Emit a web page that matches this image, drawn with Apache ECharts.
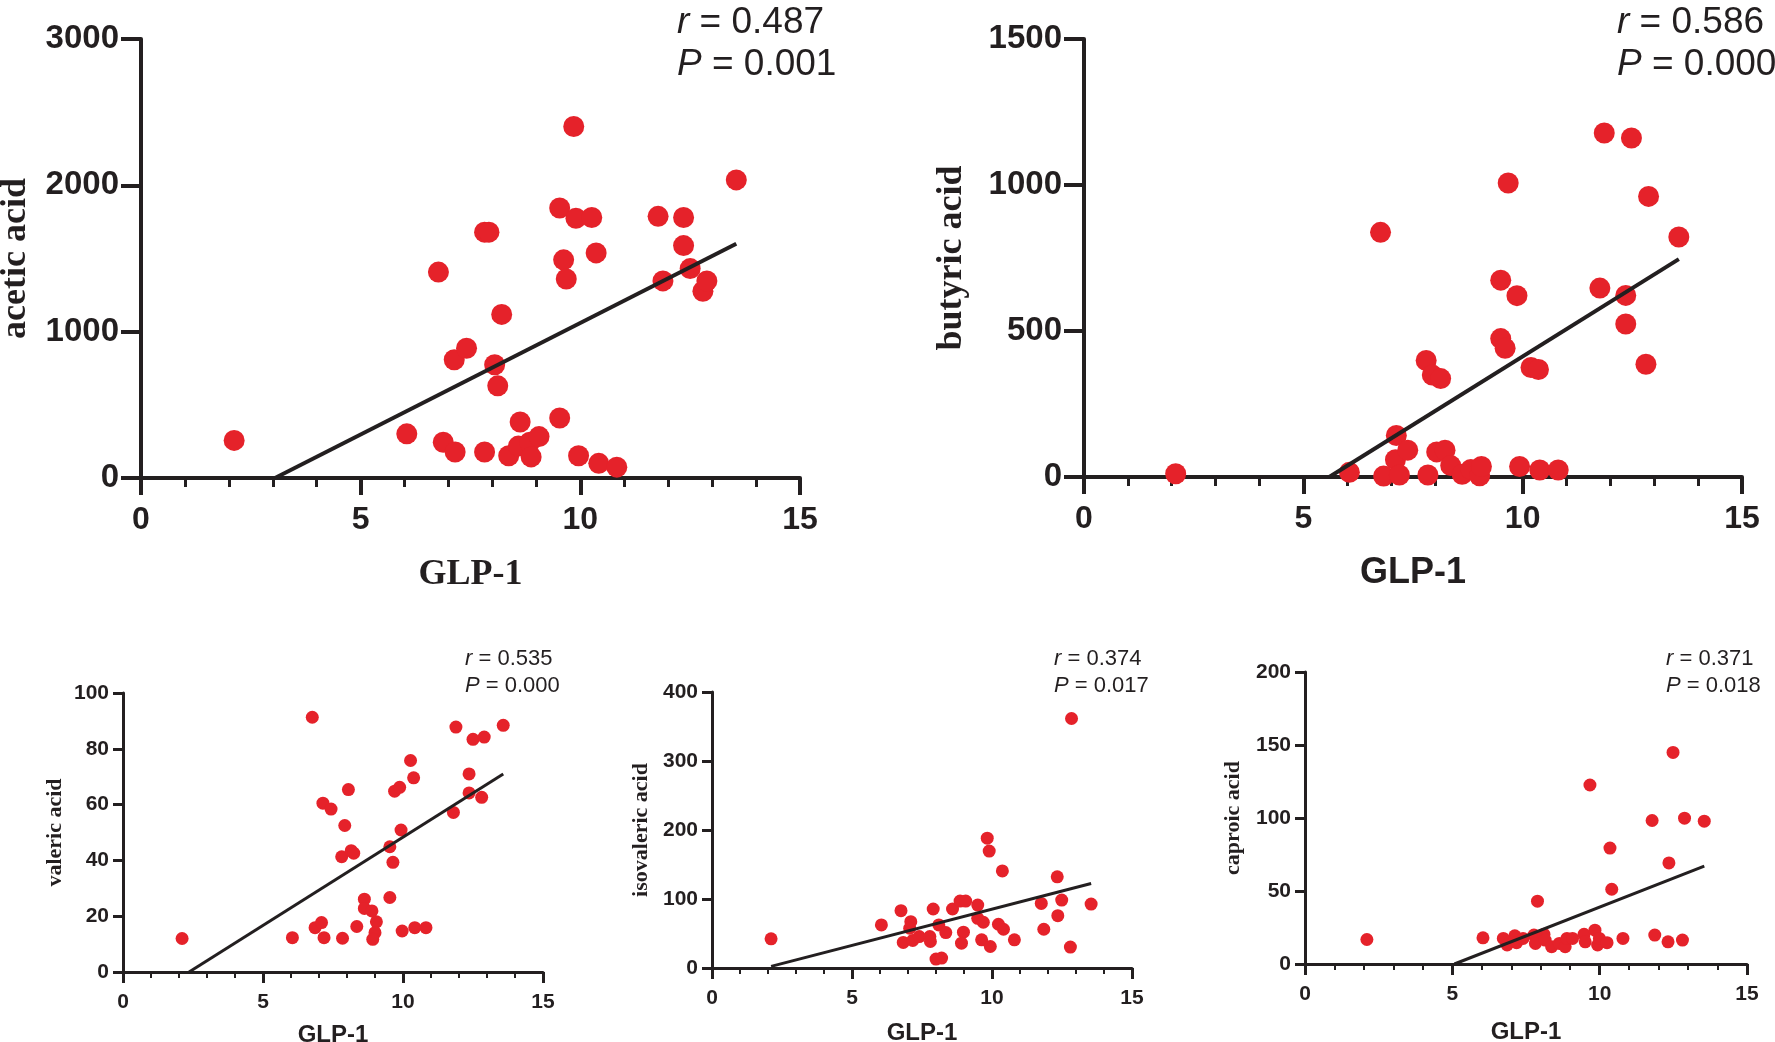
<!DOCTYPE html>
<html>
<head>
<meta charset="utf-8">
<script src="https://cdn.jsdelivr.net/npm/echarts@6/dist/echarts.min.js"></script>
<style>
  html, body { margin: 0; padding: 0; background: #fff; }
  #chart { width: 1775px; height: 1042px; }
</style>
</head>
<body>
<div id="chart"></div>
<script>
// GLP-1 on x, acid level on y, one pair of arrays per panel
var aceticX = [2.12, 6.05, 6.77, 6.88, 7.13, 7.15, 7.41, 7.82, 7.82, 7.92, 8.05, 8.12, 8.21, 8.37, 8.59, 8.63, 8.85, 8.88, 9.06, 9.53, 9.53, 9.62, 9.68, 9.85, 9.90, 9.96, 10.26, 10.36, 10.42, 10.83, 11.77, 11.88, 12.35, 12.35, 12.50, 12.79, 12.88, 13.55];
var aceticY = [257, 302, 1407, 244, 808, 178, 887, 178, 1680, 1680, 774, 630, 1118, 152, 218, 383, 244, 144, 283, 410, 1845, 1491, 1360, 2402, 1775, 152, 1780, 1538, 100, 74, 1788, 1347, 1780, 1588, 1431, 1276, 1347, 2037];

var butyricX = [2.09, 6.05, 6.76, 6.83, 7.10, 7.12, 7.19, 7.38, 7.80, 7.84, 7.94, 8.13, 8.04, 8.23, 8.36, 8.62, 8.82, 9.02, 9.06, 9.50, 9.60, 9.50, 9.67, 9.87, 9.93, 10.19, 10.36, 10.39, 10.81, 11.76, 11.86, 12.35, 12.35, 12.48, 12.81, 12.87, 13.56];
var butyricY = [11, 16, 838, 3, 59, 142, 7, 92, 399, 7, 349, 337, 86, 92, 39, 9, 26, 4, 36, 474, 441, 674, 1007, 621, 36, 375, 368, 24, 24, 647, 1178, 622, 524, 1161, 386, 961, 822];

var valericX = [2.11, 6.05, 6.76, 6.86, 7.09, 7.14, 7.18, 7.43, 7.81, 7.84, 7.92, 8.05, 8.15, 8.24, 8.35, 8.62, 8.62, 8.89, 9.05, 9.00, 8.92, 9.53, 9.53, 9.64, 9.70, 9.88, 9.93, 9.97, 10.27, 10.38, 10.42, 10.82, 11.80, 11.89, 12.36, 12.36, 12.50, 12.81, 12.90, 13.58];
var valericY = [12.0, 12.3, 91.3, 15.9, 17.7, 60.5, 12.3, 58.4, 41.3, 12.1, 52.5, 65.4, 43.5, 42.6, 16.3, 26.1, 22.8, 21.9, 18.0, 14.1, 11.7, 26.7, 44.9, 39.3, 64.8, 66.2, 50.9, 14.7, 75.8, 69.6, 15.9, 15.9, 57.2, 87.8, 71.0, 64.2, 83.4, 62.6, 84.2, 88.4];

var isovalericX = [2.11, 6.05, 6.75, 6.83, 7.10, 7.06, 7.17, 7.40, 7.78, 7.80, 7.90, 8.00, 8.20, 8.10, 8.35, 8.59, 8.86, 9.06, 8.98, 8.91, 9.49, 9.49, 9.69, 9.63, 9.83, 9.90, 9.94, 10.23, 10.41, 10.37, 10.80, 11.76, 11.85, 12.33, 12.35, 12.49, 12.80, 12.84, 13.54];
var isovalericY = [42.3, 62.4, 83.1, 37.0, 67.2, 57.6, 39.9, 45.6, 45.6, 38.4, 85.5, 13.0, 14.4, 62.4, 51.4, 85.5, 97.0, 97.0, 51.9, 36.0, 91.2, 72.0, 66.3, 40.8, 188.2, 169.5, 31.2, 63.4, 56.2, 140.7, 40.8, 93.6, 56.2, 132.1, 75.9, 98.4, 30.3, 361.6, 92.7];

var caproicX = [2.10, 6.04, 6.73, 6.86, 7.12, 7.18, 7.40, 7.77, 7.82, 7.89, 8.11, 8.15, 8.37, 8.63, 8.83, 8.89, 9.08, 9.47, 9.51, 9.67, 9.84, 9.93, 9.99, 10.25, 10.35, 10.41, 10.79, 11.78, 11.87, 12.32, 12.35, 12.49, 12.81, 12.88, 13.55];
var caproicY = [16.8, 17.9, 17.5, 13.0, 19.3, 14.6, 17.5, 19.8, 14.1, 43.0, 20.3, 16.4, 11.8, 14.1, 11.8, 17.5, 17.5, 20.3, 15.2, 122.6, 23.2, 13.0, 17.5, 14.6, 79.4, 51.2, 17.5, 98.3, 19.8, 15.2, 69.2, 144.9, 16.4, 99.9, 97.8];

// fitted regression lines, end points as drawn
var aceticFitX = [3.05, 13.55],     aceticFitY = [0, 1601];
var butyricFitX = [5.59, 13.56],    butyricFitY = [0, 746];
var valericFitX = [2.36, 13.58],    valericFitY = [0, 71.0];
var isovalericFitX = [2.11, 13.54], isovalericFitY = [2.4, 122.4];
var caproicFitX = [5.07, 13.55],    caproicFitY = [0, 67.1];

// y axis ranges and correlation stats
var yMax = [3000, 1500, 100, 400, 200];
var yStep = [1000, 500, 20, 100, 50];
var rText = ['0.487', '0.586', '0.535', '0.374', '0.371'];
var pText = ['0.001', '0.000', '0.000', '0.017', '0.018'];

var INK = '#231f20';
var RED = '#e5222a';
var SANS = 'Liberation Sans, Arial, sans-serif';
var SERIF = 'Liberation Serif, Times New Roman, serif';

function zip(xs, ys) {
  return xs.map(function (x, i) { return [x, ys[i]]; });
}
function plain(v) { return String(v); }

// layout of the five panels
var panels = [
  { name: 'acetic acid', xs: aceticX, ys: aceticY, fx: aceticFitX, fy: aceticFitY,
    grid: { left: 141, top: 39, width: 659, height: 439 }, big: true, xNameFont: SERIF,
    xNameGap: 79, yNameGap: 107, note: { left: 677, top: 2 } },
  { name: 'butyric acid', xs: butyricX, ys: butyricY, fx: butyricFitX, fy: butyricFitY,
    grid: { left: 1084, top: 39, width: 658, height: 438 }, big: true, xNameFont: SANS,
    xNameGap: 78, yNameGap: 114, note: { left: 1617, top: 2 } },
  { name: 'valeric acid', xs: valericX, ys: valericY, fx: valericFitX, fy: valericFitY,
    grid: { left: 123, top: 693, width: 420, height: 279 }, big: false, xNameFont: SANS,
    xNameGap: 51, yNameGap: 57, note: { left: 465, top: 645 } },
  { name: 'isovaleric acid', xs: isovalericX, ys: isovalericY, fx: isovalericFitX, fy: isovalericFitY,
    grid: { left: 712, top: 692, width: 420, height: 276 }, big: false, xNameFont: SANS,
    xNameGap: 53, yNameGap: 60, note: { left: 1054, top: 645 } },
  { name: 'caproic acid', xs: caproicX, ys: caproicY, fx: caproicFitX, fy: caproicFitY,
    grid: { left: 1305, top: 672, width: 442, height: 292 }, big: false, xNameFont: SANS,
    xNameGap: 56, yNameGap: 61, note: { left: 1666, top: 645 } }
];

var grids = [], xAxes = [], yAxes = [], series = [], titles = [];

panels.forEach(function (p, i) {
  var b = p.big;
  var axisW = b ? 4 : 3;
  var g = p.grid;
  grids.push({ left: g.left, top: g.top, width: g.width, height: g.height,
    containLabel: false, outerBoundsMode: 'none' });

  xAxes.push({
    gridIndex: i, type: 'value', min: 0, max: 15, interval: 5,
    axisLine: { show: true, onZero: false, lineStyle: { color: INK, width: axisW } },
    axisTick: { show: true, length: b ? 17 : 11, lineStyle: { color: INK, width: axisW } },
    minorTick: { show: true, splitNumber: 5, length: b ? 9 : 6, lineStyle: { color: INK, width: axisW - 1 } },
    splitLine: { show: false }, minorSplitLine: { show: false },
    axisLabel: { margin: b ? 26 : 20, color: INK, fontFamily: SANS, fontWeight: 'bold',
      fontSize: b ? 32 : 21, formatter: plain },
    name: 'GLP-1', nameLocation: 'middle', nameGap: p.xNameGap,
    nameTextStyle: { color: INK, fontFamily: p.xNameFont, fontWeight: 'bold', fontSize: b ? 36 : 24 }
  });

  yAxes.push({
    gridIndex: i, type: 'value', min: 0, max: yMax[i], interval: yStep[i],
    axisLine: { show: true, lineStyle: { color: INK, width: axisW } },
    axisTick: { show: true, length: b ? 20 : 10, lineStyle: { color: INK, width: axisW } },
    splitLine: { show: false },
    axisLabel: { margin: b ? 22 : 14, color: INK, fontFamily: SANS, fontWeight: 'bold',
      fontSize: b ? 33 : 21, formatter: plain },
    name: p.name, nameLocation: 'middle', nameGap: p.yNameGap,
    nameTextStyle: { color: INK, fontFamily: SERIF, fontWeight: 'bold', fontSize: b ? 36 : 22 }
  });

  series.push({
    type: 'scatter', xAxisIndex: i, yAxisIndex: i,
    data: zip(p.xs, p.ys), symbolSize: b ? 21 : 13,
    itemStyle: { color: RED, opacity: 1 }, z: 2
  });
  series.push({
    type: 'line', xAxisIndex: i, yAxisIndex: i,
    data: zip(p.fx, p.fy), showSymbol: false, symbol: 'none',
    lineStyle: { color: INK, width: b ? 4 : 3 }, z: 3
  });

  var fs = b ? 37 : 22;
  var lh = b ? 42 : 27;
  titles.push({
    left: p.note.left, top: p.note.top, padding: 0,
    text: '{i|r} = ' + rText[i] + '\n{i|P} = ' + pText[i],
    textStyle: {
      color: INK, fontFamily: SANS, fontWeight: 'normal', fontSize: fs, lineHeight: lh,
      rich: { i: { fontStyle: 'italic', color: INK, fontFamily: SANS, fontSize: fs, lineHeight: lh } }
    }
  });
});

var chart = echarts.init(document.getElementById('chart'));
chart.setOption({
  animation: false,
  backgroundColor: '#fff',
  title: titles,
  grid: grids,
  xAxis: xAxes,
  yAxis: yAxes,
  series: series
});
</script>
</body>
</html>
